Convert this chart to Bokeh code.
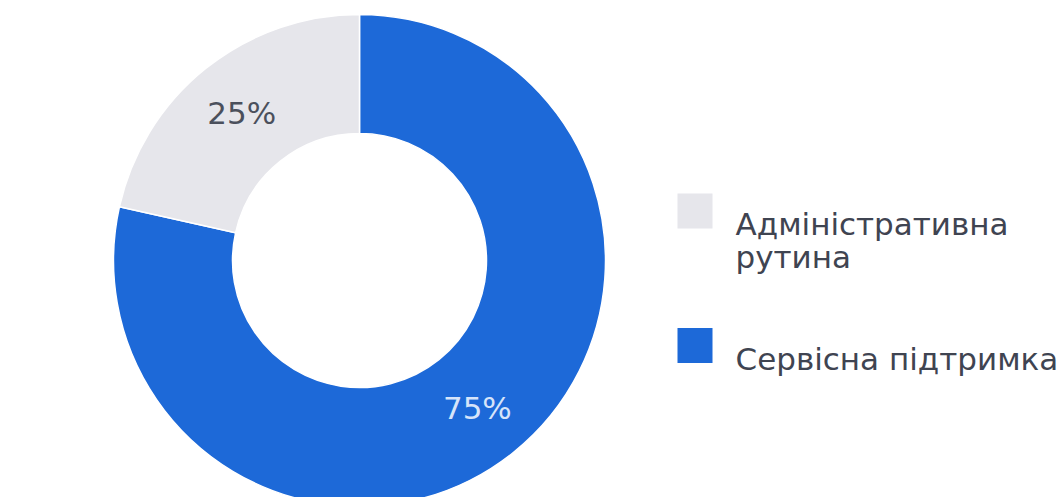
import numpy as np
from bokeh.plotting import figure
from bokeh.models import Range1d
from bokeh.core.properties import value
from bokeh.embed import file_html
from bokeh.resources import INLINE

# Data (slice shares as drawn; printed labels as shown)
categories = ["Сервісна підтримка", "Адміністративна рутина"]
shares = [0.785, 0.215]
pct_labels = ["75%", "25%"]
legend_lines = [["Сервісна підтримка"], ["Адміністративна", "рутина"]]
colors = ["#1D69D8", "#E6E6EB"]
pct_colors = ["#D6E4FA", "#4B505C"]

W, H = 1059, 497
p = figure(width=W, height=H, output_backend="svg", toolbar_location=None,
           x_range=Range1d(0, W), y_range=Range1d(0, H), min_border=0)
p.axis.visible = False
p.grid.visible = False
p.outline_line_color = None
p.background_fill_color = "#FFFFFF"
p.border_fill_color = "#FFFFFF"

cx, cy = 359, H - 260
r_in, r_out = 127, 246

cum = np.concatenate([[0], np.cumsum(shares)])
starts = np.pi / 2 - cum[:-1] * 2 * np.pi
ends = np.pi / 2 - cum[1:] * 2 * np.pi

p.annular_wedge(x=[cx] * len(shares), y=[cy] * len(shares),
                inner_radius=r_in, outer_radius=r_out,
                start_angle=list(starts), end_angle=list(ends), direction="clock",
                fill_color=colors, line_color="#FFFFFF", line_width=1.5)

mid = (starts + ends) / 2
r_mid = (r_in + r_out) / 2 + 2
p.text(x=list(cx + r_mid * np.cos(mid)), y=list(cy + r_mid * np.sin(mid)),
       text=pct_labels, text_color=pct_colors, text_align="center",
       text_baseline="middle", text_font=value("DejaVu Sans"),
       text_font_size="31px", text_font_style="normal")

# Legend (gray first at top, then blue)
order = [1, 0]
sq_y = [H - 210.5, H - 345]
base_y = [H - 223, H - 358]
line_gap = 33
for k, i in enumerate(order):
    p.rect(x=[694.5], y=[sq_y[k]], width=35, height=35,
           fill_color=colors[i], line_color=None)
    lines = legend_lines[i]
    p.text(x=[735] * len(lines), y=[base_y[k] - j * line_gap for j in range(len(lines))],
           text=lines, text_color="#3F4451", text_align="left",
           text_baseline="alphabetic", text_font=value("DejaVu Sans"),
           text_font_size="31px")

open("out.html", "w").write(file_html(p, INLINE))
